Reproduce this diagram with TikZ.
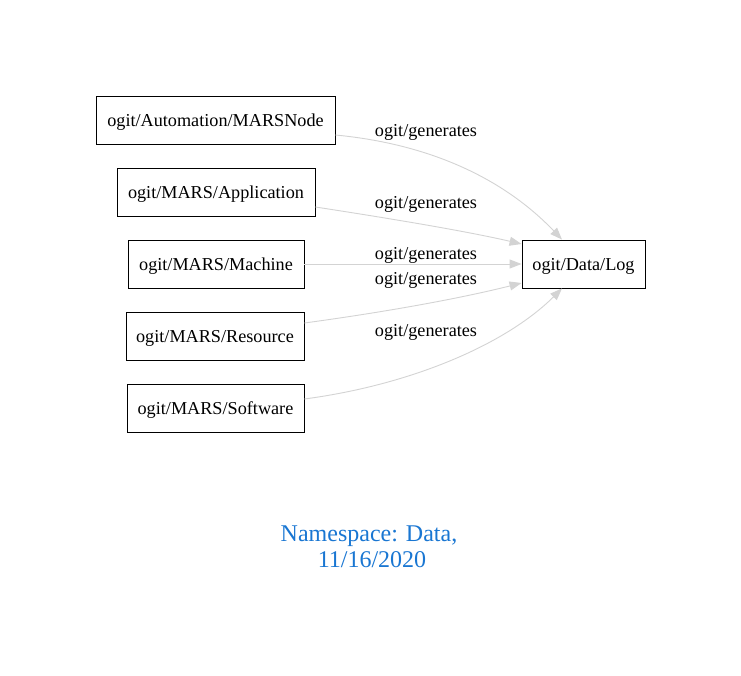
\documentclass[tikz,border=0pt]{standalone}
\usepackage{fontspec}
\setmainfont{Liberation Serif}
\usetikzlibrary{arrows.meta}
\definecolor{edgegray}{HTML}{D3D3D3}
\definecolor{titleblue}{HTML}{1976D2}
\begin{document}
\begin{tikzpicture}[x=1pt,y=-1pt,
  box/.style={draw=black,line width=0.9pt,inner sep=0pt,minimum height=48pt,text depth=0pt,
    font=\fontsize{18.2}{20}\selectfont},
  lbl/.style={inner sep=0pt,font=\fontsize{18.2}{20}\selectfont},
  edge/.style={draw=edgegray,line width=0.9pt,-{Triangle[length=12pt,width=9pt]},fill=none},
  title/.style={align=center,text=titleblue,inner sep=0pt,font=\fontsize{24}{26}\selectfont}]
\useasboundingbox (0,0) rectangle (741,676);
% classes
\node[box,minimum width=239pt] (node) at (215.5,120) {ogit/Automation/MARSNode};
\node[box,minimum width=198pt] (app)  at (216,192)   {ogit/MARS/Application};
\node[box,minimum width=176pt] (mach) at (216,264)   {ogit/MARS/Machine};
\node[box,minimum width=178pt] (res)  at (215,336)   {ogit/MARS/Resource};
\node[box,minimum width=177pt] (soft) at (215.5,408) {ogit/MARS/Software};
\node[box,minimum width=123pt] (log)  at (583.5,264) {ogit/Data/Log};
% relations
\draw[edge] ([yshift=-15pt]node.east) .. controls (440,145) and (510,185) .. ([xshift=-21.5pt]log.north);
\draw[edge] ([yshift=-15pt]app.east) .. controls (400,220) and (470,232) .. ([yshift=20pt]log.west);
\draw[edge] (mach.east) -- (log.west);
\draw[edge] ([yshift=13pt]res.east) .. controls (400,310) and (470,296) .. ([yshift=-19pt]log.west);
\draw[edge] ([yshift=9pt]soft.east) .. controls (410,385) and (505,345) .. ([xshift=-21.5pt]log.south);
% relation labels
\node[lbl] (l1) at (426,132) {ogit/generates};
\node[lbl] (l2) at (426,204) {ogit/generates};
\node[lbl] (l3) at (426,255) {ogit/generates};
\node[lbl] (l4) at (426,280) {ogit/generates};
\node[lbl] (l5) at (426,332) {ogit/generates};
% caption
\node[title] (cap) at (369,547) {Namespace: Data,\\\hspace*{6pt}11/16/2020};
\end{tikzpicture}
\end{document}
